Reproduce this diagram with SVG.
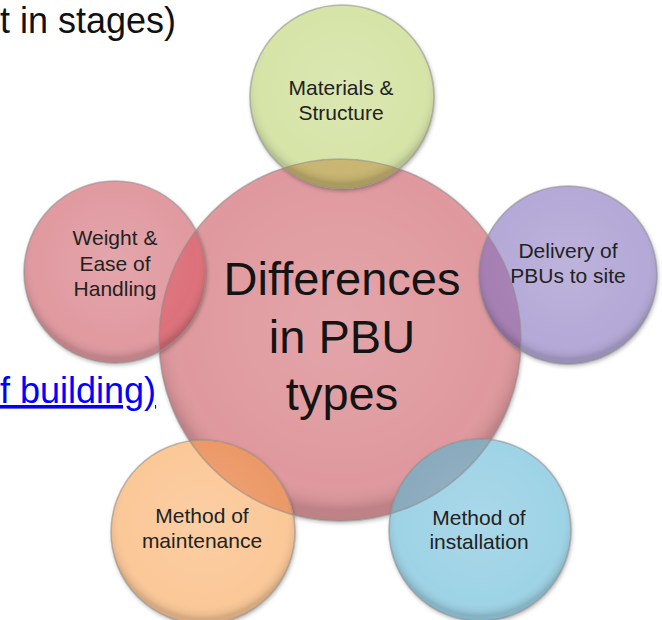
<svg xmlns="http://www.w3.org/2000/svg" width="662" height="620" viewBox="0 0 662 620">
<style>
  .lbl { font-family: "Liberation Sans", Arial, sans-serif; font-size: 21px; fill: #222; text-anchor: middle; }
  .big { font-family: "Liberation Sans", Arial, sans-serif; font-size: 47px; fill: #141414; text-anchor: middle; }
  .page { font-family: "Liberation Sans", Arial, sans-serif; font-size: 36px; }
  .rim { fill: none; stroke: #8e8a8a; stroke-opacity: 0.55; stroke-width: 1.5; }
  .shade { fill: url(#shade); }
</style>
<defs>
  <filter id="sh" x="-20%" y="-20%" width="140%" height="140%">
    <feDropShadow dx="1" dy="2" stdDeviation="2" flood-color="#000" flood-opacity="0.3"/>
  </filter>
  <radialGradient id="shade" cx="50%" cy="45%" r="52%">
    <stop offset="0" stop-color="#fff" stop-opacity="0.12"/>
    <stop offset="0.85" stop-color="#fff" stop-opacity="0"/>
    <stop offset="0.96" stop-color="#000" stop-opacity="0.06"/>
    <stop offset="1" stop-color="#000" stop-opacity="0.15"/>
  </radialGradient>
  <clipPath id="clipC"><circle cx="340" cy="340" r="181"/></clipPath>
</defs>

<text class="page" x="0" y="33" fill="#111">t in stages)</text>
<text class="page" x="0" y="403" fill="#0000ff" text-decoration="underline">f building)</text>

<g id="center">
  <circle cx="340" cy="340" r="181" fill="#df999e" filter="url(#sh)"/>
  <circle class="shade" cx="340" cy="340" r="181"/>
</g>

<g id="materials">
  <circle cx="342" cy="97" r="92" fill="#d6e4a8" filter="url(#sh)"/>
  <circle cx="342" cy="97" r="92" fill="#c9b672" clip-path="url(#clipC)"/>
  <circle class="shade" cx="342" cy="97" r="92"/>
  <circle class="rim" cx="342" cy="97" r="92"/>
  <text class="lbl" x="341" y="95">Materials &amp;</text>
  <text class="lbl" x="341" y="120">Structure</text>
</g>

<g id="delivery">
  <circle cx="568" cy="275" r="89" fill="#b4a9d7" filter="url(#sh)"/>
  <circle cx="568" cy="275" r="89" fill="#a67fb3" clip-path="url(#clipC)"/>
  <circle class="shade" cx="568" cy="275" r="89"/>
  <circle class="rim" cx="568" cy="275" r="89"/>
  <text class="lbl" x="568" y="258">Delivery of</text>
  <text class="lbl" x="568" y="283">PBUs to site</text>
</g>

<g id="weight">
  <circle cx="115" cy="272" r="91" fill="#e09aa0" filter="url(#sh)"/>
  <circle cx="115" cy="272" r="91" fill="#dc717b" clip-path="url(#clipC)"/>
  <circle class="shade" cx="115" cy="272" r="91"/>
  <circle class="rim" cx="115" cy="272" r="91"/>
  <text class="lbl" x="115" y="245">Weight &amp;</text>
  <text class="lbl" x="115" y="271">Ease of</text>
  <text class="lbl" x="115" y="296">Handling</text>
</g>

<g id="maintenance">
  <circle cx="203" cy="532" r="92" fill="#fbc898" filter="url(#sh)"/>
  <circle cx="203" cy="532" r="92" fill="#ec9968" clip-path="url(#clipC)"/>
  <circle class="shade" cx="203" cy="532" r="92"/>
  <circle class="rim" cx="203" cy="532" r="92"/>
  <text class="lbl" x="202" y="523">Method of</text>
  <text class="lbl" x="202" y="548">maintenance</text>
</g>

<g id="installation">
  <circle cx="480" cy="530" r="91" fill="#9ed3e6" filter="url(#sh)"/>
  <circle cx="480" cy="530" r="91" fill="#8aaabd" clip-path="url(#clipC)"/>
  <circle class="shade" cx="480" cy="530" r="91"/>
  <circle class="rim" cx="480" cy="530" r="91"/>
  <text class="lbl" x="479" y="525">Method of</text>
  <text class="lbl" x="479" y="549">installation</text>
</g>

<g id="center-label">
  <circle class="rim" cx="340" cy="340" r="181"/>
  <text class="big" x="342" y="295">Differences</text>
  <text class="big" x="342" y="353">in PBU</text>
  <text class="big" x="342" y="410">types</text>
</g>
</svg>
